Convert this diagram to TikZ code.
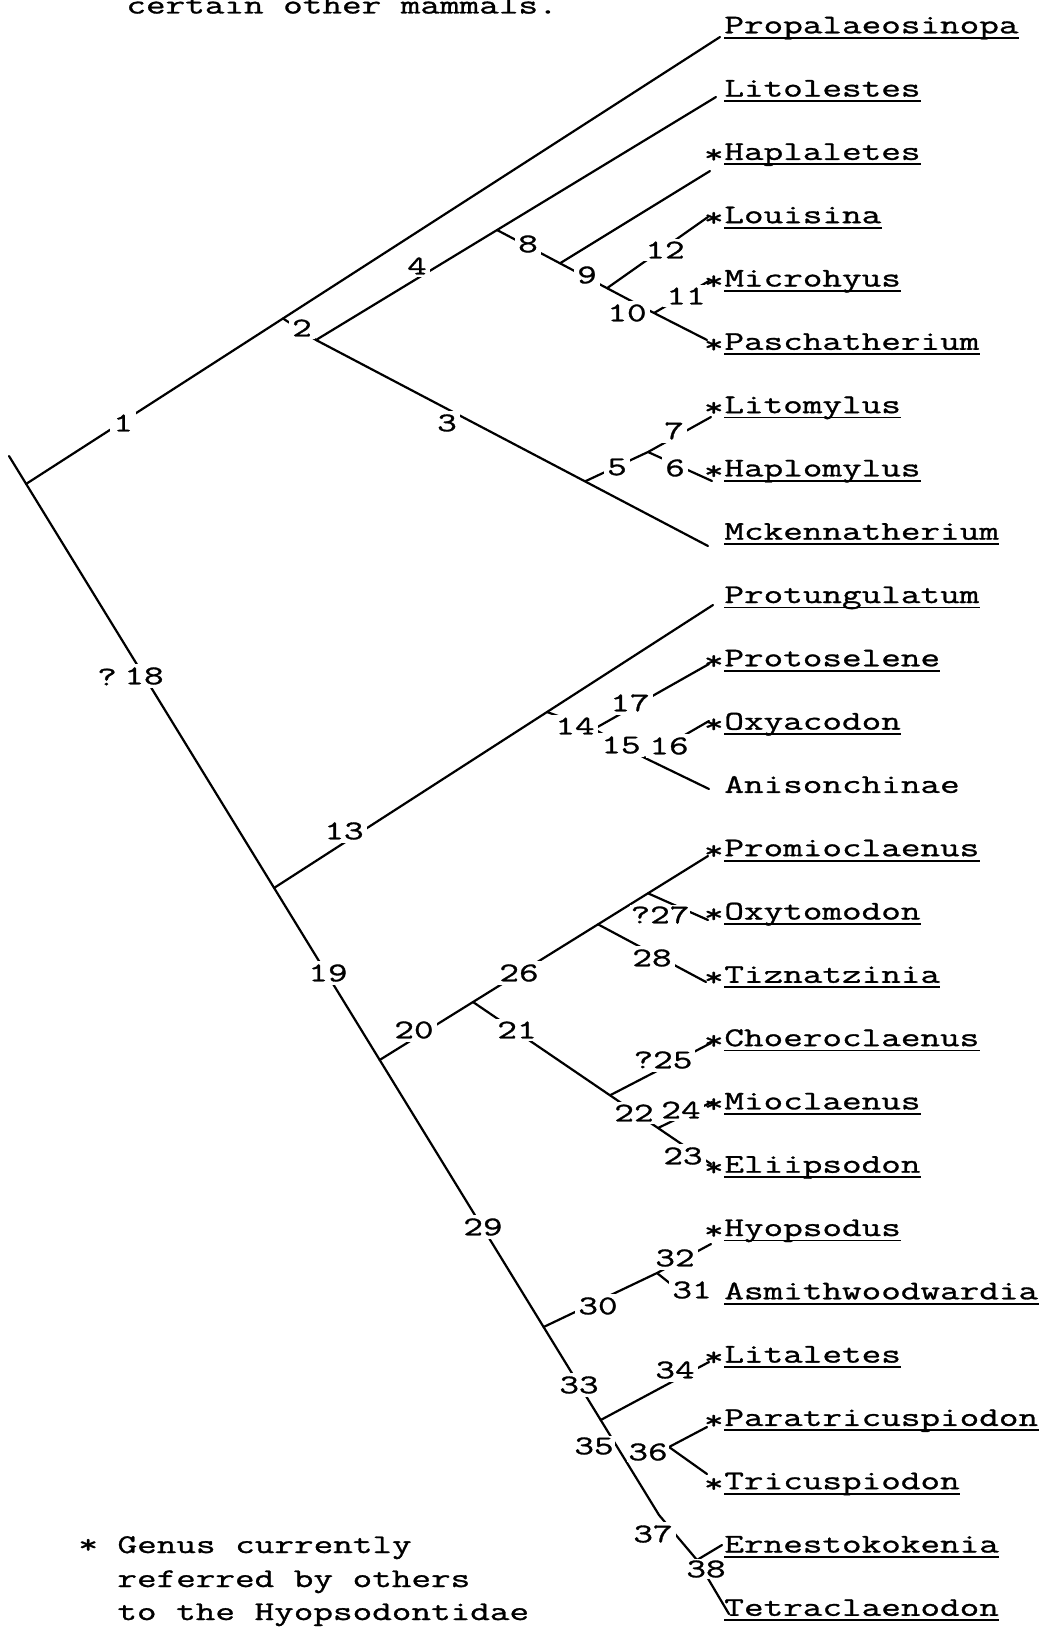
\documentclass[tikz,border=0pt]{standalone}
\usepackage{fontspec}
\newfontfamily\tw{Latin Modern Mono}[FakeStretch=1.41,FakeBold=1.1]
\newcommand\twf{\tw\fontsize{13.5}{16}\selectfont}
\begin{document}
\begin{tikzpicture}[x=0.5pt,y=-0.5pt,
  br/.style={line width=1.1pt,line cap=round,line join=round},
  lab/.style={font=\twf, fill=white, inner sep=1.5pt},
  labt/.style={lab, inner sep=0.5pt},
  plainlab/.style={font=\twf, inner sep=0pt},
  taxon/.style={font=\twf, inner sep=0pt, anchor=base west},
  uline/.style={line width=0.9pt}]
\fill[white] (0,0) rectangle (1049,1627);
\useasboundingbox (0,0) rectangle (1049,1627);

% caption fragment cut at top
\node[taxon] (cap) at (126,13.5) {certain other mammals.};

% inner nodes
\coordinate (R) at (26,484);
\coordinate (S) at (9,456);
\coordinate (N2) at (283,318.5);
\coordinate (J2) at (316,340);
\coordinate (N8) at (497,230);
\coordinate (N9) at (560,263.3);
\coordinate (N12) at (607,288.2);
\coordinate (V10) at (654,313);
\coordinate (N5) at (585,481.4);
\coordinate (V6) at (648,452);
\coordinate (N13) at (274,888);
\coordinate (N14) at (547,712);
\coordinate (J14) at (594,729);
\coordinate (V15) at (645,758);
\coordinate (N20) at (379.6,1060);
\coordinate (J21) at (473,1002);
\coordinate (N28) at (598,924.3);
\coordinate (N27) at (648,893.3);
\coordinate (N25) at (610,1095.3);
\coordinate (V22) at (658,1128);
\coordinate (N30) at (543.6,1327);
\coordinate (V31) at (657,1273);
\coordinate (N34) at (600.7,1420);
\coordinate (V36) at (669,1447);
\coordinate (N37) at (659,1515);
\coordinate (V38) at (697,1560);
% branch ends at the taxa
\coordinate (E0) at (720,37);
\coordinate (E1) at (716,97);
\coordinate (E2) at (710,171);
\coordinate (E3) at (708,217);
\coordinate (E4) at (709,281);
\coordinate (E5) at (707,340);
\coordinate (E6) at (711,417);
\coordinate (E7) at (712,481);
\coordinate (E8) at (708,546);
\coordinate (E9) at (713,605);
\coordinate (E10) at (709,664);
\coordinate (E11) at (709,721);
\coordinate (E12) at (709,789);
\coordinate (E13) at (708,856);
\coordinate (E14) at (708,920);
\coordinate (E15) at (706,982);
\coordinate (E16) at (711,1043);
\coordinate (E17) at (712,1102);
\coordinate (E18) at (711,1164);
\coordinate (E19) at (711,1244);
\coordinate (E20) at (672,1285);
\coordinate (E21) at (709,1362);
\coordinate (E22) at (707,1427);
\coordinate (E23) at (707,1474);
\coordinate (E24) at (722,1545);
\coordinate (E25) at (729,1614);

% branches
\draw[br] (S) -- (N37);
\draw[br] (R) -- (E0);
\draw[br] (N2) -- (J2) -- (E1);
\draw[br] (N8) -- (V10);
\draw[br] (N9) -- (E2);
\draw[br] (N12) -- (E3);
\draw[br] (E4) -- (V10) -- (E5);
\draw[br] (J2) -- (E8);
\draw[br] (N5) -- (V6) -- (E6);
\draw[br] (V6) -- (E7);
\draw[br] (N13) -- (E9);
\draw[br] (N14) -- (J14) -- (E10);
\draw[br] (J14) -- (V15) -- (E11);
\draw[br] (V15) -- (E12);
\draw[br] (N20) -- (J21) -- (E13);
\draw[br] (N27) -- (E14);
\draw[br] (N28) -- (E15);
\draw[br] (J21) -- (V22);
\draw[br] (N25) -- (E16);
\draw[br] (E17) -- (V22) -- (E18);
\draw[br] (N30) -- (V31) -- (E19);
\draw[br] (V31) -- (E20);
\draw[br] (N34) -- (E21);
\draw[br] (E22) -- (V36) -- (E23);
\draw[br] (N37) -- (V38) -- (E24);
\draw[br] (V38) -- (E25);

% branch numbers
\node[lab] (l1) at (123,423) {1};
\node[lab] (l2) at (302,328) {2};
\node[lab] (l3) at (447,423) {3};
\node[lab] (l4) at (417,266) {4};
\node[lab] (l5) at (617,467) {5};
\node[lab] (l6) at (675,468) {6};
\node[lab] (l7) at (674,431) {7};
\node[lab] (l8) at (528,244) {8};
\node[lab] (l9) at (587,275) {9};
\node[lab] (l10) at (627,313) {10};
\node[lab] (l11) at (686,296) {11};
\node[lab] (l12) at (665,250) {12};
\node[lab] (l13) at (344,831) {13};
\node[lab] (l14) at (575,726) {14};
\node[lab] (l15) at (621,745) {15};
\node[lab] (l16) at (669,746) {16};
\node[lab] (l17) at (630,703) {17};
\node[plainlab] (lq18) at (107,677) {?};
\node[lab] (l18) at (144,676) {18};
\node[lab] (l19) at (328,973) {19};
\node[lab] (l20) at (414,1030) {20};
\node[lab] (l21) at (517,1030) {21};
\node[lab] (l22) at (634,1113) {22};
\node[lab] (l23) at (683,1156) {23};
\node[lab] (l24) at (681,1110) {24};
\node[lab] (l25) at (663,1060) {?25};
\node[lab] (l26) at (519,973) {26};
\node[labt] (l27) at (660,915) {?27};
\node[lab] (l28) at (652,958) {28};
\node[lab] (l29) at (483,1227) {29};
\node[lab] (l30) at (598,1306) {30};
\node[lab] (l31) at (692,1290) {31};
\node[lab] (l32) at (675,1258) {32};
\node[lab] (l33) at (579,1385) {33};
\node[lab] (l34) at (675,1370) {34};
\node[labt] (l35) at (594,1446) {35};
\node[labt] (l36) at (648,1452) {36};
\node[lab] (l37) at (653,1534) {37};
\node[labt] (l38) at (706,1569) {38};

% taxa: index / asterisk / underline / name
\foreach \i/\s/\u/\t in {
  0/0/1/Propalaeosinopa, 1/0/1/Litolestes, 2/1/1/Haplaletes,
  3/1/1/Louisina, 4/1/1/Microhyus, 5/1/1/Paschatherium,
  6/1/1/Litomylus, 7/1/1/Haplomylus, 8/0/1/Mckennatherium,
  9/0/1/Protungulatum, 10/1/1/Protoselene, 11/1/1/Oxyacodon,
  12/0/0/Anisonchinae, 13/1/1/Promioclaenus, 14/1/1/Oxytomodon,
  15/1/1/Tiznatzinia, 16/1/1/Choeroclaenus, 17/1/1/Mioclaenus,
  18/1/1/Eliipsodon, 19/1/1/Hyopsodus, 20/0/1/Asmithwoodwardia,
  21/1/1/Litaletes, 22/1/1/Paratricuspiodon, 23/1/1/Tricuspiodon,
  24/0/1/Ernestokokenia, 25/0/1/Tetraclaenodon}{
  \pgfmathsetmacro\yb{33.3+63.3*\i}
  \node[taxon] (t\i) at (724,\yb) {\t};
  \ifnum\s=1 \node[taxon,anchor=base east,yshift=-1.5pt] (s\i) at (t\i.base west) {*};\fi
  \ifnum\u=1 \draw[uline] ([yshift=-2.2pt]t\i.base west) -- ([yshift=-2.2pt]t\i.base east);\fi
}

% footnote
\node[taxon] (f1) at (78,1553) {* Genus currently};
\node[taxon] (f2) at (117,1587) {referred by others};
\node[taxon] (f3) at (117,1620) {to the Hyopsodontidae};
\end{tikzpicture}
\end{document}
